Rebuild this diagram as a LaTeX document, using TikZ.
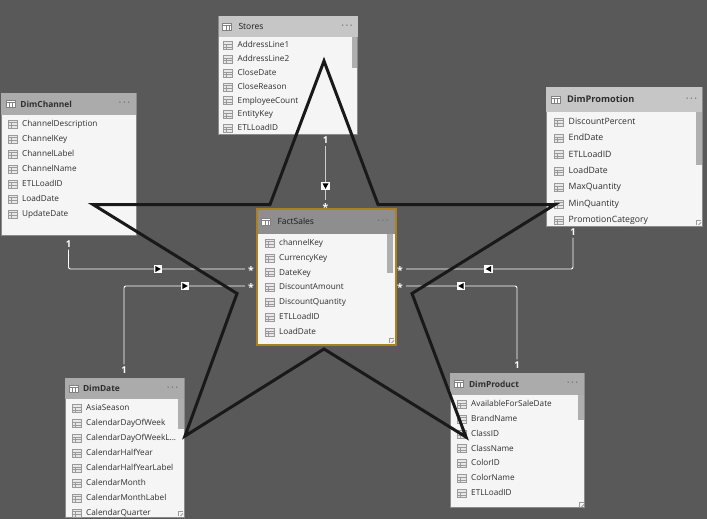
\documentclass[tikz,border=0pt]{standalone}
\usepackage{fontspec}
\setmainfont{Open Sans}
\usetikzlibrary{positioning}
\definecolor{canvasgray}{HTML}{595959}
\definecolor{headlight}{HTML}{C6C6C6}
\definecolor{headmid}{HTML}{ABABAB}
\definecolor{headdark}{HTML}{8E8E8E}
\definecolor{bodybg}{HTML}{F5F5F5}
\definecolor{edgegray}{HTML}{8A8A8A}
\definecolor{iconline}{HTML}{9A9A9A}
\definecolor{iconfill}{HTML}{E8E8E8}
\definecolor{scrollgray}{HTML}{AFAFAF}
\definecolor{factgold}{HTML}{A9821E}
\definecolor{labeltext}{HTML}{2E2E2E}
\newcommand{\cutdots}{...}
\tikzset{
  tablebody/.style={draw=edgegray, fill=bodybg, line width=0.6pt, inner sep=0pt},
  factbody/.style={fill=bodybg, inner sep=0pt},
  factframe/.style={draw=factgold, line width=1.8pt},
  tablehead/.style={fill=headlight, inner sep=0pt, anchor=north},
  headtext/.style={font=\fontsize{8.4}{10}\selectfont\bfseries, text=labeltext, inner sep=0pt},
  headplain/.style={font=\fontsize{8.5}{10}\selectfont, text=black!90, inner sep=0pt},
  headdots/.style={font=\fontsize{8}{10}\selectfont\bfseries, text=labeltext!70, inner sep=0pt},
  rowtext/.style={font=\fontsize{8.2}{10}\selectfont, text=labeltext, anchor=west, inner sep=0pt, text height=6.5pt, text depth=2pt, yshift=-1.3pt},
  scrollbar/.style={fill=scrollgray, draw=none},
  colicon/.pic={
    \draw[iconline, fill=iconfill, line width=0.7pt] (-4.5,-4) rectangle (4.5,4);
    \draw[iconline, line width=0.5pt] (-4.5,-1.3) -- (4.5,-1.3) (-4.5,1.3) -- (4.5,1.3) (-1.5,-1.3) -- (-1.5,4);
  },
  headicon/.pic={
    \draw[labeltext!60, fill=white, line width=0.7pt] (-4.5,-3.5) rectangle (4.5,3.5);
    \draw[labeltext!60, line width=0.6pt] (-4.5,-1.2) -- (4.5,-1.2) (-1.5,-1.2) -- (-1.5,3.5) (1.5,-1.2) -- (1.5,3.5);
  },
  grip/.pic={
    \draw[iconline, line width=0.5pt] (-5,0) -- (-5,-5) -- (0,-5);
    \draw[iconline, line width=0.8pt] (-2.5,0) -- (0,-2.5);
  },
  cardone/.style={font=\fontsize{9.5}{10}\selectfont\bfseries, text=white, inner sep=2pt},
  cardmany/.style={font=\fontsize{10.5}{10}\selectfont\bfseries, text=white, inner sep=3pt},
  relline/.style={draw=white, line width=0.9pt, rounded corners=2pt},
  markbox/.style={fill=white, inner sep=0pt, minimum size=8.5pt},
  markright/.style={markbox, path picture={\fill[black] ([shift={(-2.6,-3)}]path picture bounding box.center) -- ++(5.4,3) -- ++(-5.4,3) -- cycle;}},
  markleft/.style={markbox, path picture={\fill[black] ([shift={(2.6,-3)}]path picture bounding box.center) -- ++(-5.4,3) -- ++(5.4,3) -- cycle;}},
  markdown/.style={markbox, path picture={\fill[black] ([shift={(-3,-2.6)}]path picture bounding box.center) -- ++(6,0) -- ++(-3,5.4) -- cycle;}},
  starline/.style={draw=black!90, line width=3pt, line join=miter},
}

\begin{document}
\begin{tikzpicture}[x=1pt, y=-1pt]
\useasboundingbox (0,0) rectangle (707,519);
\fill[canvasgray] (0,0) rectangle (707,519);

% Stores
\node[tablebody, minimum width=139pt, minimum height=118pt] (stores) at (288,75) {};
\node[tablehead, minimum width=139pt, minimum height=21pt] (storeshead) at (stores.north) {};
\node[headplain, right=20pt of storeshead.west] (storestitle) {Stores};
\node[headdots, left=5pt of storeshead.east] (storesdots) {· · ·};
\pic at ([xshift=9pt]storeshead.west) {headicon};
\foreach \i/\t in {0/AddressLine1,1/AddressLine2,2/CloseDate,3/CloseReason,4/EmployeeCount,5/EntityKey,6/ETLLoadID}
  {\node[rowtext] (stores\i) at (237.5,{44.3+13.8*\i}) {\t};
   \pic at ([xshift=-9.5pt]stores\i.west) {colicon};}
\fill[scrollbar] (352,37) rectangle (357,68);

% DimChannel
\node[tablebody, minimum width=134.5pt, minimum height=142pt] (channel) at (68.7,164) {};
\node[tablehead, fill=headmid, minimum width=134.5pt, minimum height=22pt] (channelhead) at (channel.north) {};
\node[headtext, right=19pt of channelhead.west] (channeltitle) {DimChannel};
\node[headdots, left=6pt of channelhead.east] (channeldots) {· · ·};
\pic at ([xshift=9.5pt]channelhead.west) {headicon};
\foreach \i/\t in {0/ChannelDescription,1/ChannelKey,2/ChannelLabel,3/ChannelName,4/ETLLoadID,5/LoadDate,6/UpdateDate}
  {\node[rowtext] (channel\i) at (22,{122.7+15*\i}) {\t};
   \pic at ([xshift=-9.5pt]channel\i.west) {colicon};}

% FactSales
\node[factbody, minimum width=138pt, minimum height=135pt] (fact) at (326.5,277) {};
\node[tablehead, fill=headdark, minimum width=138pt, minimum height=24pt] (facthead) at (fact.north) {};
\node[headplain, right=20pt of facthead.west] (facttitle) {FactSales};
\node[headdots, left=7pt of facthead.east] (factdots) {· · ·};
\pic at ([xshift=9pt]facthead.west) {headicon};
\foreach \i/\t in {0/channelKey,1/CurrencyKey,2/DateKey,3/DiscountAmount,4/DiscountQuantity,5/ETLLoadID,6/LoadDate}
  {\node[rowtext] (fact\i) at (279,{241.7+14.9*\i}) {\t};
   \pic at ([xshift=-9.5pt]fact\i.west) {colicon};}
\fill[scrollbar] (387,234) rectangle (393,273);
\pic at (394,343) {grip};
\draw[factframe] (fact.north west) rectangle (fact.south east);

% DimPromotion
\node[tablebody, minimum width=156pt, minimum height=139pt] (promo) at (624,156.5) {};
\node[tablehead, minimum width=156pt, minimum height=25pt] (promohead) at (promo.north) {};
\node[headtext, right=21pt of promohead.west, font=\fontsize{9.2}{10}\selectfont\bfseries] (promotitle) {DimPromotion};
\node[headdots, left=5pt of promohead.east] (promodots) {· · ·};
\pic at ([xshift=10pt]promohead.west) {headicon};
\foreach \i/\t in {0/DiscountPercent,1/EndDate,2/ETLLoadID,3/LoadDate,4/MaxQuantity,5/MinQuantity,6/PromotionCategory}
  {\node[rowtext, font=\fontsize{8.7}{10}\selectfont] (promo\i) at (568.5,{120.7+16.4*\i}) {\t};
   \pic at ([xshift=-10pt]promo\i.west) {colicon};}
\fill[scrollbar] (696,112) rectangle (701.5,165);
\pic at (701,225) {grip};

% DimDate
\node[tablebody, minimum width=119pt, minimum height=139pt] (date) at (124.5,447.5) {};
\node[tablehead, fill=headmid, minimum width=119pt, minimum height=21pt] (datehead) at (date.north) {};
\node[headtext, right=18pt of datehead.west] (datetitle) {DimDate};
\node[headdots, left=6pt of datehead.east] (datedots) {· · ·};
\pic at ([xshift=9pt]datehead.west) {headicon};
\foreach \i/\t in {0/AsiaSeason,1/CalendarDayOfWeek,2/CalendarDayOfWeekL\cutdots,3/CalendarHalfYear,4/CalendarHalfYearLabel,5/CalendarMonth,6/CalendarMonthLabel,7/CalendarQuarter}
  {\node[rowtext] (date\i) at (86,{407.3+14.9*\i}) {\t};
   \pic at ([xshift=-9.5pt]date\i.west) {colicon};}
\fill[scrollbar] (178,399) rectangle (183.5,429);
\pic at (183,516) {grip};

% DimProduct
\node[tablebody, minimum width=134pt, minimum height=134pt] (product) at (517,440) {};
\node[tablehead, fill=headmid, minimum width=134pt, minimum height=22pt] (producthead) at (product.north) {};
\node[headtext, right=19pt of producthead.west] (producttitle) {DimProduct};
\node[headdots, left=6pt of producthead.east] (productdots) {· · ·};
\pic at ([xshift=9pt]producthead.west) {headicon};
\foreach \i/\t in {0/AvailableForSaleDate,1/BrandName,2/ClassID,3/ClassName,4/ColorID,5/ColorName,6/ETLLoadID}
  {\node[rowtext] (product\i) at (471,{402.8+14.9*\i}) {\t};
   \pic at ([xshift=-9.5pt]product\i.west) {colicon};}
\fill[scrollbar] (578,395) rectangle (583.5,420);
\pic at (584,507) {grip};

% relationships
\node[cardone] (storesone) at (325.5,140) {1};
\node[cardmany] (storesmany) at (325.5,207.5) {*};
\node[cardone] (channelone) at (68.5,244) {1};
\node[cardmany] (channelmany) at (251,271) {*};
\node[cardone] (dateone) at (124,370) {1};
\node[cardmany] (datemany) at (251,288) {*};
\node[cardone] (promoone) at (573,232) {1};
\node[cardmany] (promomany) at (400,271) {*};
\node[cardone] (productone) at (517,365) {1};
\node[cardmany] (productmany) at (400,288) {*};
\draw[relline, draw=white!80!black] (storesone) -- (storesmany);
\draw[relline] (channelone) |- (channelmany.west |- 0,269);
\draw[relline] (dateone) |- (datemany.west |- 0,286);
\draw[relline] (promoone) |- (promomany.east |- 0,269);
\draw[relline] (productone) |- (productmany.east |- 0,286);
\node[markdown] (storesmark) at (325.5,186) {};
\node[markright] (channelmark) at (158,269) {};
\node[markright] (datemark) at (185,286) {};
\node[markleft] (promomark) at (488.5,269) {};
\node[markleft] (productmark) at (461,286) {};

% star on top
\draw[starline] (324,61) -- (378,204.5) -- (555,204.5) -- (412,293.5) -- (466,437) -- (324,349) -- (185,436) -- (237,293.5) -- (93,204.5) -- (270,204.5) -- cycle;
\end{tikzpicture}
\end{document}
